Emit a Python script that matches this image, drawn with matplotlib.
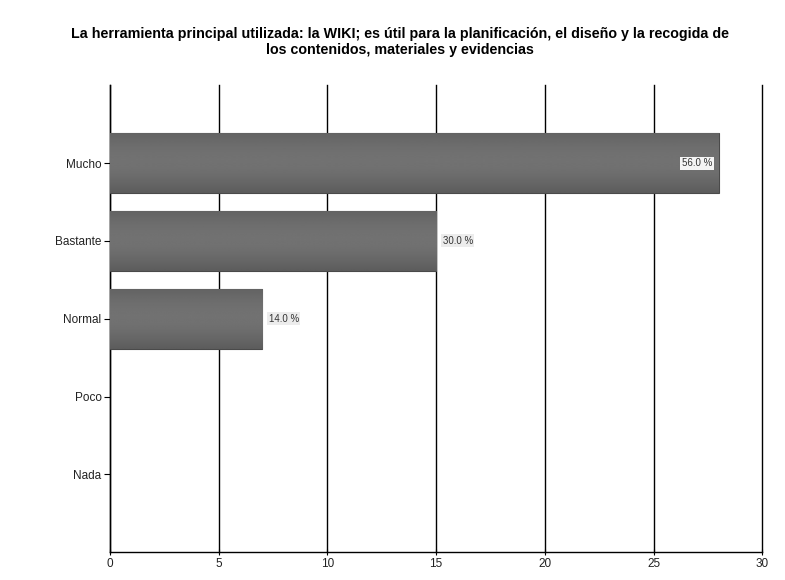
import matplotlib
matplotlib.use("Agg")
import matplotlib.pyplot as plt
import numpy as np

categories = ["Mucho", "Bastante", "Normal", "Poco", "Nada"]
values = [28, 15, 7, 0, 0]
pct_labels = ["56.0 %", "30.0 %", "14.0 %", "", ""]
xticks = [0, 5, 10, 15, 20, 25, 30]

plt.rcParams['font.family'] = ['Liberation Sans', 'DejaVu Sans']

fig = plt.figure(figsize=(7.85, 5.8), dpi=100)
ax = fig.add_axes([0.140, 0.048, 0.831, 0.805])

pos = np.arange(1, len(categories) + 1)
ax.set_ylim(6, 0)
ax.set_xlim(0, 30)

# gradient fill for bars
grad = np.linspace(0, 1, 100).reshape(-1, 1)
shade = 0.36 + 0.07 * np.sin(np.pi * grad) + 0.03 * (1 - grad)
for p, v in zip(pos, values):
    if v <= 0:
        continue
    bars = ax.barh(p, v, height=0.77, color="#606060", edgecolor="#4a4a4a",
                   linewidth=0.8, zorder=3)
    b = bars[0]
    im = ax.imshow(shade, cmap="gray", vmin=0, vmax=1, aspect="auto",
                   extent=[0, v, p + 0.385, p - 0.385], zorder=3.5,
                   interpolation="bilinear")
    im.set_clip_path(b)

for p, v, lab in zip(pos, values, pct_labels):
    if not lab:
        continue
    if v >= 20:
        ax.text(v - 0.3, p, lab, ha="right", va="center", fontsize=7,
                color="#333333", zorder=5,
                bbox=dict(boxstyle="square,pad=0.15", fc="#f4f4f4", ec="none"))
    else:
        ax.text(v + 0.3, p, lab, ha="left", va="center", fontsize=7,
                color="#333333", zorder=5,
                bbox=dict(boxstyle="square,pad=0.15", fc="#ececec", ec="none"))

ax.set_yticks(pos)
ax.set_yticklabels(categories, fontsize=8.5, color="#222222")
ax.set_xticks(xticks)
ax.set_xticklabels([str(t) for t in xticks], fontsize=8.5, color="#222222")
ax.xaxis.grid(True, color="black", linewidth=1.0, zorder=1)
for gl in ax.get_xgridlines():
    gl.set_clip_on(False)
ax.set_axisbelow(True)
for s in ["top", "right"]:
    ax.spines[s].set_visible(False)
ax.spines["left"].set_linewidth(1.0)
ax.spines["bottom"].set_linewidth(1.0)
ax.tick_params(axis="y", length=4, width=0.8, pad=2)
ax.tick_params(axis="x", length=4, width=0.8, direction="inout", pad=2)

fig.text(0.51, 0.928, "La herramienta principal utilizada: la WIKI; es útil para la planificación, el diseño y la recogida de\nlos contenidos, materiales y evidencias",
         ha="center", va="center", fontsize=10.3, fontweight="bold", linespacing=1.15)

fig.savefig("out.png", dpi=100, facecolor="white")
